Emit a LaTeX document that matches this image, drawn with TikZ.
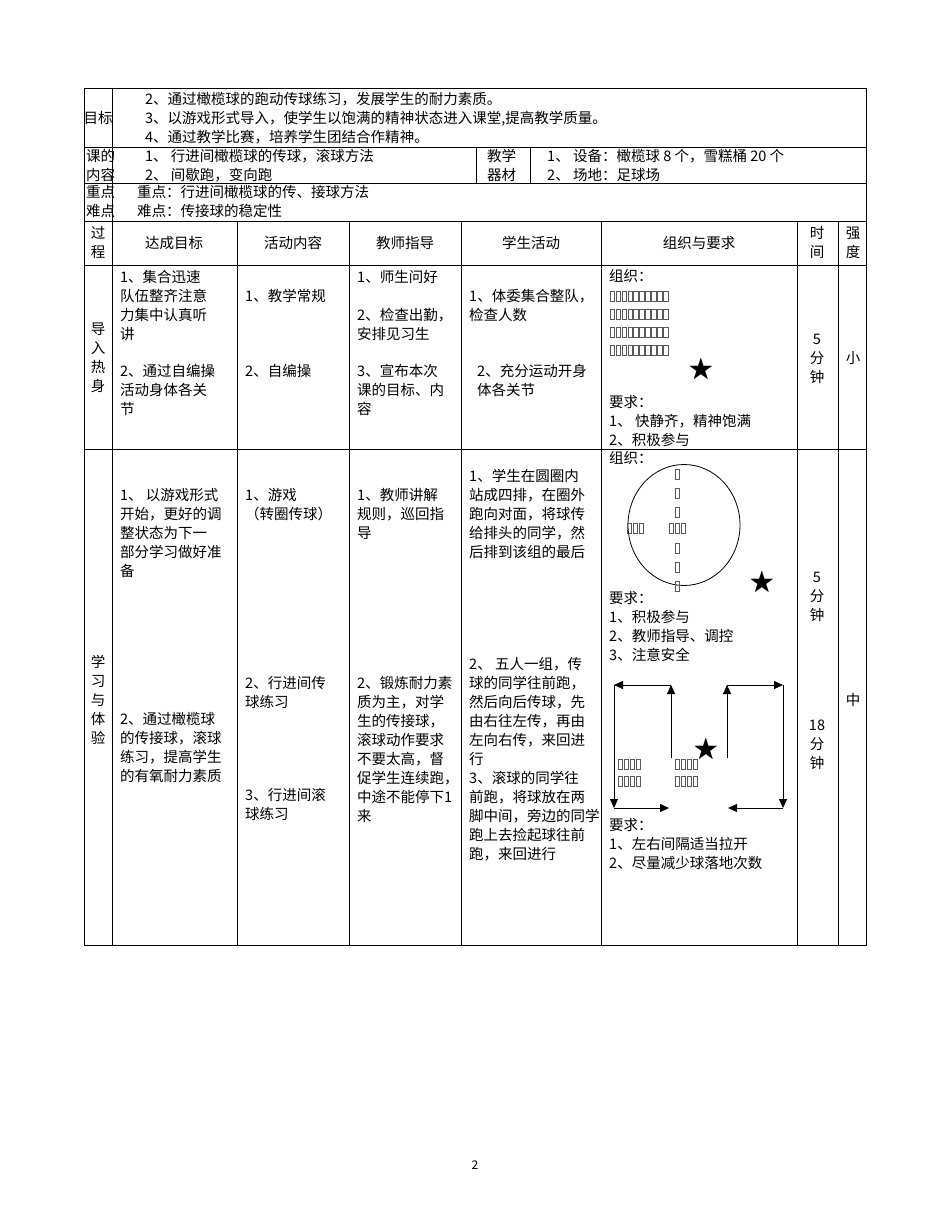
\documentclass[tikz,border=0pt]{standalone}
\usepackage{fontspec}
\setmainfont{Noto Sans CJK SC}
\usepackage{amssymb}
\usetikzlibrary{arrows.meta,shapes.geometric}
\begin{document}
\begin{tikzpicture}[x=1pt,y=-1pt,
  grid/.style={line width=0.9pt},
  t/.style={anchor=north west,inner sep=0pt,align=left,font=\fontsize{14.5}{19}\selectfont},
  tc/.style={anchor=center,inner sep=0pt,align=center,font=\fontsize{14.5}{19}\selectfont},
  arr/.style={line width=0.8pt,-{Triangle[length=9pt,width=8pt]}},
  tofu/.style={line width=0.4pt,gray!70!black}]
\useasboundingbox (0,0) rectangle (950,1230);
% grid
\draw[grid] (84,88) rectangle (866,945);
\foreach \y in {147,183,221,265,449} \draw[grid] (84,\y) -- (866,\y);
\draw[grid] (112,88) -- (112,221);
\draw[grid] (476,147) -- (476,183);
\draw[grid] (530,147) -- (530,183);
\foreach \x in {112,237,349,461,601,797,838} \draw[grid] (\x,221) -- (\x,945);
% top rows
\node[tc] (mb) at (98,118) {目标};
\node[t] (mbt) at (145,92) {2、通过橄榄球的跑动传球练习，发展学生的耐力素质。\\3、以游戏形式导入，使学生以饱满的精神状态进入课堂,提高教学质量。\\4、通过教学比赛，培养学生团结合作精神。};
\node[t] (kd) at (86,149) {课的\\内容};
\node[t] (kdt) at (145,149) {1、 行进间橄榄球的传球，滚球方法\\2、 间歇跑，变向跑};
\node[t] (jx) at (487,149) {教学\\器材};
\node[t] (jxt) at (547,149) {1、 设备：橄榄球 8 个，雪糕桶 20 个\\2、 场地：足球场};
\node[t] (zd) at (86,185) {重点\\难点};
\node[t] (zdt) at (137,185) {重点：行进间橄榄球的传、接球方法\\难点：传接球的稳定性};
% header
\node[tc] (h1) at (98,242) {过\\程};
\node[tc] (h2) at (174,243) {达成目标};
\node[tc] (h3) at (293,243) {活动内容};
\node[tc] (h4) at (405,243) {教师指导};
\node[tc] (h5) at (531,243) {学生活动};
\node[tc] (h6) at (699,243) {组织与要求};
\node[tc] (h7) at (817,243) {时\\间};
\node[tc] (h8) at (853,243) {强\\度};
% row 1
\node[tc] (r1a) at (98,358) {导\\入\\热\\身};
\node[t] (r1b) at (120,270) {1、集合迅速\\队伍整齐注意\\力集中认真听\\讲};
\node[t] (r1b2) at (120,364) {2、通过自编操\\活动身体各关\\节};
\node[t] (r1c) at (245,289) {1、教学常规};
\node[t] (r1c2) at (245,364) {2、自编操};
\node[t] (r1d) at (357,270) {1、师生问好};
\node[t] (r1d2) at (357,308) {2、检查出勤，\\安排见习生};
\node[t] (r1d3) at (357,364) {3、宣布本次\\课的目标、内\\容};
\node[t] (r1e) at (469,289) {1、体委集合整队，\\检查人数};
\node[t] (r1e2) at (477,364) {2、充分运动开身\\体各关节};
\node[t] (r1f) at (609,269) {组织：};
\foreach \r in {0,...,3} \foreach \i in {0,...,9}
  \draw[tofu] (610+\i*5.9,291+\r*18) rectangle ++(4.6,10);
\node[font=\fontsize{26}{26}\selectfont,inner sep=0pt] (st1) at (701,370) {$\bigstar$};
\node[t] (r1f2) at (609,395) {要求：\\1、 快静齐，精神饱满\\2、积极参与};
\node[tc] (r1g) at (817,359) {5\\分\\钟};
\node[tc] (r1h) at (853,358) {小};
% row 2
\node[tc] (r2a) at (98,700) {学\\习\\与\\体\\验};
\node[t] (r2b) at (120,488) {1、 以游戏形式\\开始，更好的调\\整状态为下一\\部分学习做好准\\备};
\node[t] (r2b2) at (120,712) {2、通过橄榄球\\的传接球，滚球\\练习，提高学生\\的有氧耐力素质};
\node[t] (r2c) at (245,488) {1、游戏\\（转圈传球）};
\node[t] (r2c2) at (245,676) {2、行进间传\\球练习};
\node[t] (r2c3) at (245,788) {3、行进间滚\\球练习};
\node[t] (r2d) at (357,488) {1、教师讲解\\规则，巡回指\\导};
\node[t] (r2d2) at (357,676) {2、锻炼耐力素\\质为主，对学\\生的传接球，\\滚球动作要求\\不要太高，督\\促学生连续跑，\\中途不能停下1\\来};
\node[t] (r2e) at (469,469) {1、学生在圆圈内\\站成四排，在圈外\\跑向对面，将球传\\给排头的同学，然\\后排到该组的最后};
\node[t] (r2e2) at (469,657) {2、 五人一组，传\\球的同学往前跑，\\然后向后传球，先\\由右往左传，再由\\左向右传，来回进\\行\\3、滚球的同学往\\前跑，将球放在两\\脚中间，旁边的同学\\跑上去捡起球往前\\跑，来回进行};
\node[t] (r2f) at (609,451) {组织：};
\node[draw,ellipse,line width=0.8pt,minimum width=112pt,minimum height=121pt,inner sep=0pt] (circ) at (684,525) {};
\foreach \yy in {469,488,507,543,562,581} \draw[tofu] (675,\yy) rectangle ++(4.6,10);
\foreach \i in {0,1,2} \draw[tofu] (627+\i*5.9,523) rectangle ++(4.6,10);
\foreach \i in {0,1,2} \draw[tofu] (669+\i*5.9,523) rectangle ++(4.6,10);
\node[font=\fontsize{26}{26}\selectfont,inner sep=0pt] (st2) at (762,583) {$\bigstar$};
\node[t] (r2f2) at (609,591) {要求：\\1、积极参与\\2、教师指导、调控\\3、注意安全};
% arrows diagram
\coordinate (a1) at (671,758); \coordinate (a2) at (671,685);
\coordinate (a3) at (614,685); \coordinate (a4) at (614,808);
\coordinate (a5) at (669,808);
\coordinate (b1) at (727,758); \coordinate (b2) at (727,685);
\coordinate (b3) at (783,685); \coordinate (b4) at (783,808);
\coordinate (b5) at (728,808);
\draw[arr] (a1) -- (a2); \draw[arr] (a2) -- (a3); \draw[arr] (a3) -- (a4); \draw[arr] (a4) -- (a5);
\draw[arr] (b1) -- (b2); \draw[arr] (b2) -- (b3); \draw[arr] (b3) -- (b4); \draw[arr] (b4) -- (b5);
\foreach \yy in {759,776} {
  \foreach \i in {0,...,3} \draw[tofu] (618+\i*5.9,\yy) rectangle ++(4.6,10);
  \foreach \i in {0,...,3} \draw[tofu] (675+\i*5.9,\yy) rectangle ++(4.6,10);
}
\node[font=\fontsize{26}{26}\selectfont,inner sep=0pt] (st3) at (706,750) {$\bigstar$};
\node[t] (r2f3) at (609,818) {要求：\\1、左右间隔适当拉开\\2、尽量减少球落地次数};
\node[tc] (r2g) at (817,597) {5\\分\\钟};
\node[tc] (r2g2) at (817,745) {18\\分\\钟};
\node[tc] (r2h) at (853,700) {中};
\node[inner sep=0pt,font=\fontsize{12}{12}\selectfont] (pg) at (475,1165) {2};
\end{tikzpicture}
\end{document}
